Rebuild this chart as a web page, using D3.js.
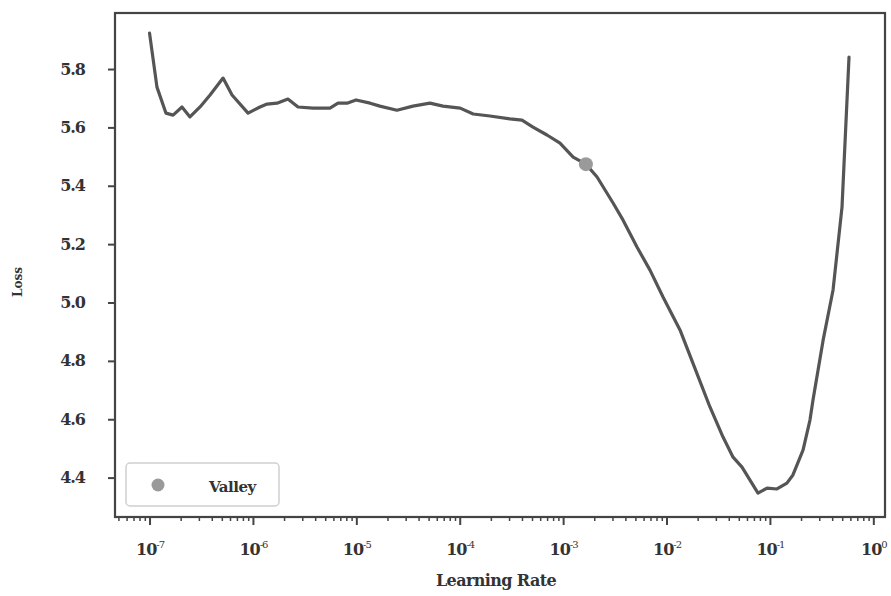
<!DOCTYPE html>
<html>
<head>
<meta charset="utf-8">
<script src="https://cdn.jsdelivr.net/npm/d3@7"></script>
<style>
  body { margin: 0; background: #fff; }
</style>
</head>
<body>
<div id="chart"></div>
<script>
// values
var learningRates = [1.0e-7, 1.18e-7, 1.44e-7, 1.69e-7, 2.06e-7, 2.46e-7, 3.08e-7, 3.85e-7, 5.14e-7, 6.28e-7,
    8.97e-7, 1.17e-6, 1.37e-6, 1.71e-6, 2.18e-6, 2.73e-6, 3.81e-6, 5.56e-6, 6.65e-6, 8.13e-6,
    9.93e-6, 1.36e-5, 1.69e-5, 2.47e-5, 3.53e-5, 5.15e-5, 6.89e-5, 1.01e-4, 1.35e-4, 1.96e-4,
    3.06e-4, 4.00e-4, 5.11e-4, 6.98e-4, 9.33e-4, 1.25e-3, 1.66e-3, 2.13e-3, 3.04e-3, 3.79e-3,
    5.18e-3, 6.92e-3, 9.25e-3, 1.35e-2, 1.80e-2, 2.63e-2, 3.52e-2, 4.40e-2, 5.37e-2, 7.67e-2,
    9.38e-2, 0.117, 0.146, 0.167, 0.209, 0.244, 0.261, 0.327, 0.408, 0.498, 0.582];
var losses = [5.923, 5.738, 5.649, 5.642, 5.670, 5.636, 5.670, 5.711, 5.769, 5.711,
    5.649, 5.670, 5.680, 5.683, 5.697, 5.670, 5.666, 5.666, 5.683, 5.683,
    5.694, 5.683, 5.673, 5.659, 5.673, 5.683, 5.673, 5.666, 5.646, 5.639,
    5.629, 5.625, 5.601, 5.574, 5.546, 5.498, 5.474, 5.430, 5.341, 5.283,
    5.190, 5.111, 5.019, 4.906, 4.792, 4.642, 4.539, 4.470, 4.436, 4.347,
    4.364, 4.361, 4.381, 4.409, 4.494, 4.597, 4.666, 4.871, 5.043, 5.327, 5.841];
var valleyLr = 1.66e-3;
var valleyLoss = 5.474;
var yTicks = [4.4, 4.6, 4.8, 5.0, 5.2, 5.4, 5.6, 5.8];
var xExponents = [-7, -6, -5, -4, -3, -2, -1, 0];

var serif = "'DejaVu Serif', 'Liberation Serif', serif";

var svgWidth = 891;
var svgHeight = 596;
var margin = { top: 13, right: 6, bottom: 79, left: 115 };
var width = svgWidth - margin.left - margin.right;
var height = svgHeight - margin.top - margin.bottom;

var svg = d3.select("#chart")
    .append("svg")
    .attr("width", svgWidth)
    .attr("height", svgHeight);

var g = svg.append("g")
    .attr("transform", `translate(${margin.left}, ${margin.top})`);

var x = d3.scaleLog().domain([Math.pow(10, -7.334), Math.pow(10, 0.113)]).range([0, width]);
var y = d3.scaleLinear().domain([4.265, 5.992]).range([height, 0]);

// minor log ticks
var minorTicks = [];
for (var e = -8; e <= 0; e++) {
    for (var m = 2; m <= 9; m++) {
        var v = m * Math.pow(10, e);
        if (v >= x.domain()[0] && v <= x.domain()[1]) minorTicks.push(v);
    }
}

var minorAxis = g.append("g")
    .attr("transform", `translate(0, ${height})`)
    .call(d3.axisBottom(x).tickValues(minorTicks).tickSize(4).tickFormat(""));
minorAxis.select(".domain").remove();
minorAxis.selectAll("line").attr("stroke", "#444").attr("stroke-width", 1.5);

var majorAxis = g.append("g")
    .attr("transform", `translate(0, ${height})`)
    .call(d3.axisBottom(x).tickValues(xExponents.map(p => Math.pow(10, p))).tickSize(8).tickFormat(""));
majorAxis.select(".domain").remove();
majorAxis.selectAll("line").attr("stroke", "#444").attr("stroke-width", 2);

// tick labels as 10 with superscript
majorAxis.selectAll(".tick").append("text")
    .attr("y", 38)
    .attr("text-anchor", "middle")
    .attr("fill", "#333")
    .attr("font-family", serif)
    .style("font-family", serif)
    .style("font-weight", "bold")
    .style("font-size", "16px")
    .style("letter-spacing", "-1px")
    .each(function(d) {
        var t = d3.select(this);
        t.append("tspan").text("10");
        t.append("tspan").attr("dy", -7).style("font-size", "10px").style("font-weight", "normal")
            .text(Math.round(Math.log10(d)));
    });

var leftAxis = g.append("g")
    .call(d3.axisLeft(y).tickValues(yTicks).tickSize(7).tickPadding(23).tickFormat(d3.format(".1f")));
leftAxis.select(".domain").remove();
leftAxis.selectAll("line").attr("stroke", "#444").attr("stroke-width", 2);
leftAxis.selectAll("text")
    .attr("fill", "#333")
    .attr("font-family", serif)
    .style("font-family", serif)
    .style("font-weight", "bold")
    .style("font-size", "16px")
    .style("letter-spacing", "-1px");

// frame
g.append("rect")
    .attr("x", 0).attr("y", 0)
    .attr("width", width).attr("height", height)
    .attr("fill", "none")
    .attr("stroke", "#444")
    .attr("stroke-width", 2.2);

// loss curve
var line = d3.line()
    .x(d => x(d[0]))
    .y(d => y(d[1]));

g.append("path")
    .datum(d3.zip(learningRates, losses))
    .attr("d", line)
    .attr("fill", "none")
    .attr("stroke", "#555")
    .attr("stroke-width", 3.2)
    .attr("stroke-linejoin", "round")
    .attr("stroke-linecap", "round");

// valley point
g.append("circle")
    .attr("cx", x(valleyLr))
    .attr("cy", y(valleyLoss))
    .attr("r", 7)
    .attr("fill", "#9a9a9a");

// legend
var legend = g.append("g").attr("transform", "translate(11, 450)");
legend.append("rect")
    .attr("width", 153).attr("height", 43).attr("rx", 4)
    .attr("fill", "#fff").attr("stroke", "#d0d0d0").attr("stroke-width", 1.5);
legend.append("circle").attr("cx", 32).attr("cy", 22).attr("r", 6.5).attr("fill", "#9a9a9a");
legend.append("text").attr("x", 83).attr("y", 29)
    .attr("fill", "#333")
    .attr("font-family", serif)
    .style("font-family", serif).style("font-weight", "bold").style("font-size", "15px")
    .style("letter-spacing", "-0.5px")
    .text("Valley");

// axis titles
svg.append("text")
    .attr("x", 496).attr("y", 586)
    .attr("text-anchor", "middle")
    .attr("fill", "#333")
    .attr("font-family", serif)
    .style("font-family", serif).style("font-weight", "bold").style("font-size", "16px")
    .style("letter-spacing", "-0.6px")
    .text("Learning Rate");

svg.append("text")
    .attr("transform", "translate(22, 282) rotate(-90)")
    .attr("text-anchor", "middle")
    .attr("fill", "#333")
    .attr("font-family", serif)
    .style("font-family", serif).style("font-weight", "bold").style("font-size", "12px")
    .text("Loss");
</script>
</body>
</html>
